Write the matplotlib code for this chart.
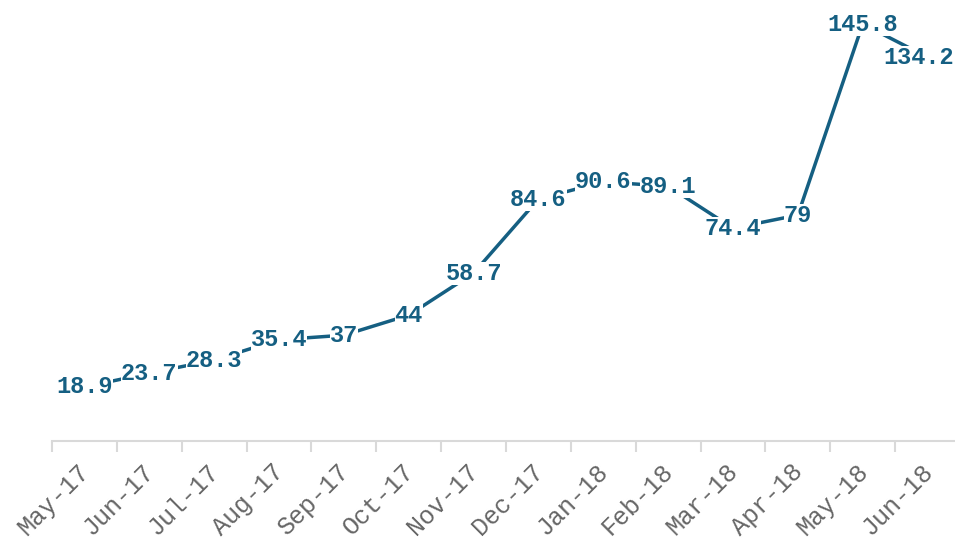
import matplotlib.pyplot as plt
import matplotlib.transforms as mtransforms
import numpy as np

months = ['May-17', 'Jun-17', 'Jul-17', 'Aug-17', 'Sep-17', 'Oct-17', 'Nov-17',
          'Dec-17', 'Jan-18', 'Feb-18', 'Mar-18', 'Apr-18', 'May-18', 'Jun-18']
values = [18.9, 23.7, 28.3, 35.4, 37, 44, 58.7, 84.6, 90.6, 89.1, 74.4, 79, 145.8, 134.2]
labels = ['18.9', '23.7', '28.3', '35.4', '37', '44', '58.7', '84.6', '90.6', '89.1',
          '74.4', '79', '145.8', '134.2']

line_color = '#155f82'
grey = '#d9d9d9'

fig = plt.figure(figsize=(9.55, 5.4), dpi=100)
# plot area runs a little past the right edge, like the original
ax = fig.add_axes([52 / 955, 99 / 540, (960 - 52) / 955, 441 / 540])

x = np.arange(len(months))
ax.plot(x, values, color=line_color, linewidth=2.5, solid_capstyle='butt', zorder=2)

# data labels centred on the points, white box hides the line underneath
for xi, v, lab in zip(x, values, labels):
    # last label is pushed back inside the picture
    dx = -9 if xi == len(months) - 1 else 0
    ax.annotate(lab, (xi, v), xytext=(dx, 0), textcoords='offset pixels',
                ha='center', va='center', fontsize=17, fontweight='bold',
                family='Liberation Mono', color=line_color, zorder=3,
                bbox=dict(boxstyle='square,pad=0.0', facecolor='white', edgecolor='none'))

ax.set_xlim(-0.5, len(months) - 0.5)
ax.set_ylim(0, 154.2)

for s in ['top', 'left', 'right']:
    ax.spines[s].set_visible(False)
ax.spines['bottom'].set_color(grey)
ax.spines['bottom'].set_linewidth(1.5)
ax.set_yticks([])

ax.set_xticks(x)
ax.set_xticklabels(months, rotation=45, ha='right', rotation_mode='anchor',
                   family='Liberation Mono', fontsize=18, color='#666666')
ax.tick_params(axis='x', which='major', length=0, pad=13)
shift = mtransforms.ScaledTranslation(-7 / 100, 0, fig.dpi_scale_trans)
for t in ax.get_xticklabels():
    t.set_transform(t.get_transform() + shift)
ax.set_xticks(np.arange(-0.5, len(months), 1), minor=True)
ax.tick_params(axis='x', which='minor', length=8, width=1.5, color=grey)

fig.savefig('out.png', dpi=100)
